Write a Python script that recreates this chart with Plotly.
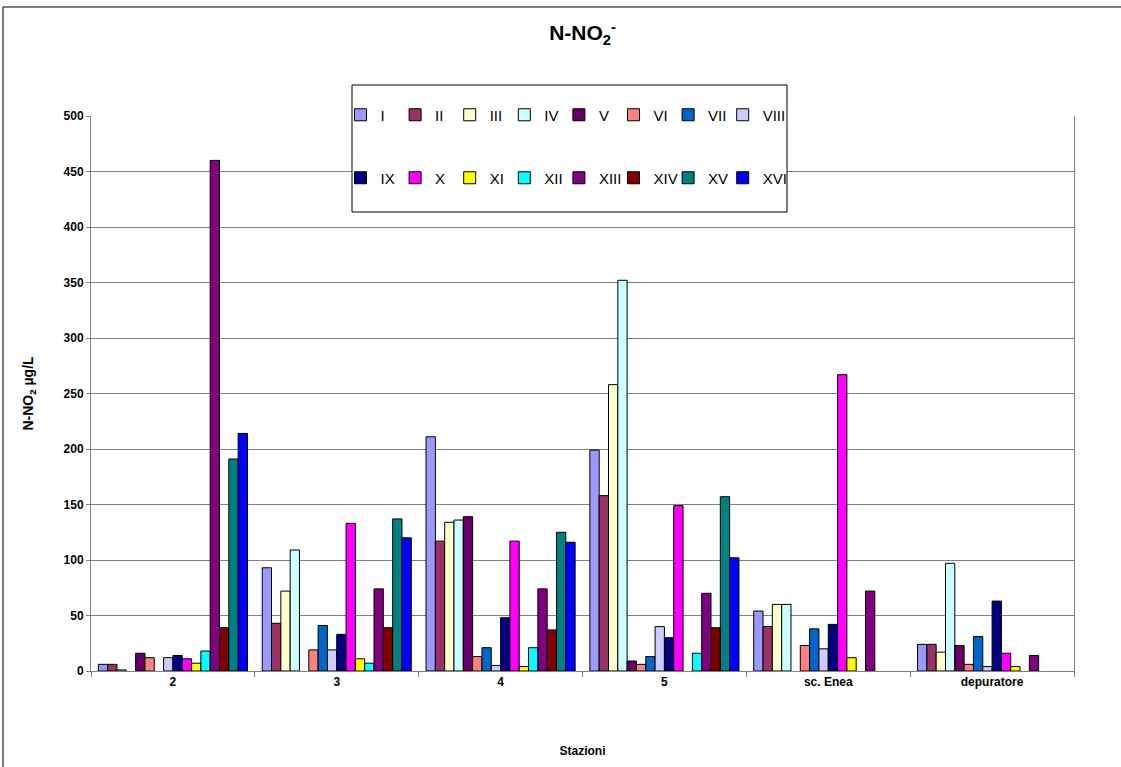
import plotly.graph_objects as go

categories = ["2", "3", "4", "5", "sc. Enea", "depuratore"]
series_names = ["I", "II", "III", "IV", "V", "VI", "VII", "VIII",
                "IX", "X", "XI", "XII", "XIII", "XIV", "XV", "XVI"]

s_I    = [6, 93, 211, 199, 54, 24]
s_II   = [6, 43, 117, 158, 40, 24]
s_III  = [1, 72, 134, 258, 60, 17]
s_IV   = [None, 109, 136, 352, 60, 97]
s_V    = [16, None, 139, 9, None, 23]
s_VI   = [12, 19, 13, 6, 23, 6]
s_VII  = [None, 41, 21, 13, 38, 31]
s_VIII = [12, 19, 5, 40, 20, 4]
s_IX   = [14, 33, 48, 30, 42, 63]
s_X    = [11, 133, 117, 149, 267, 16]
s_XI   = [7, 11, 4, None, 12, 4]
s_XII  = [18, 7, 21, 16, None, None]
s_XIII = [460, 74, 74, 70, 72, 14]
s_XIV  = [39, 39, 37, 39, None, None]
s_XV   = [191, 137, 125, 157, None, None]
s_XVI  = [214, 120, 116, 102, None, None]

values = [s_I, s_II, s_III, s_IV, s_V, s_VI, s_VII, s_VIII,
          s_IX, s_X, s_XI, s_XII, s_XIII, s_XIV, s_XV, s_XVI]

colors = ["#9999FF", "#993366", "#FFFFCC", "#CCFFFF", "#660066", "#FF8080",
          "#0066CC", "#CCCCFF", "#000080", "#FF00FF", "#FFFF00", "#00FFFF",
          "#800080", "#800000", "#008080", "#0000FF"]

y_ticks = list(range(0, 501, 50))

FONT = "Liberation Sans, Arial, sans-serif"

W, H = 1121, 767
ml, mr, mt, mb = 91, 47, 116, 96
pw = W - ml - mr
ph = H - mt - mb

def px_x(x):
    return (x - ml) / pw

def px_y(y):
    return (H - mb - y) / ph

def legend_key(i):
    return "legend" if i == 0 else f"legend{i + 1}"

fig = go.Figure()
for i, (name, vals, col) in enumerate(zip(series_names, values, colors)):
    fig.add_trace(go.Bar(
        x=categories, y=vals, name=name, showlegend=True,
        marker=dict(color=col, line=dict(color="black", width=1)),
        legend=legend_key(i),
    ))

x_start = 340.5
step = 54.6
row_y = [115, 178]

legends = {}
for i in range(len(series_names)):
    col_i, row_i = i % 8, i // 8
    legends[legend_key(i)] = dict(
        orientation="h", bgcolor="rgba(0,0,0,0)", borderwidth=0,
        font=dict(family=FONT, size=15, color="black"), itemwidth=30,
        xanchor="left", yanchor="middle",
        x=px_x(x_start + col_i * step), y=px_y(row_y[row_i]),
    )

fig.update_layout(
    width=W, height=H,
    margin=dict(l=ml, r=mr, t=mt, b=mb),
    paper_bgcolor="white", plot_bgcolor="white",
    showlegend=True,
    barmode="group", bargap=0.09, bargroupgap=0,
    title=dict(text="<b>N-NO<sub>2</sub><sup>-</sup></b>", x=0.5, xref="paper",
               y=1 - 33 / H, yref="container", xanchor="center", yanchor="middle",
               font=dict(family=FONT, size=21, color="black")),
    font=dict(family=FONT, color="black"),
    xaxis=dict(
        type="category", categoryorder="array", categoryarray=categories,
        showline=True, linecolor="#808080", linewidth=1,
        ticks="outside", tickson="boundaries", ticklen=5, tickcolor="#808080",
        tickfont=dict(family=FONT, size=12, color="black", weight="bold"),
        title=dict(text="<b>Stazioni</b>", standoff=58,
                   font=dict(family=FONT, size=12, color="black")),
        showgrid=False,
    ),
    yaxis=dict(
        range=[0, 500], tickvals=y_ticks, showgrid=True, gridcolor="#808080",
        gridwidth=1, showline=True, linecolor="#808080", linewidth=1, mirror=True,
        ticks="outside", ticklen=4, tickcolor="#808080",
        tickfont=dict(family=FONT, size=12, color="black", weight="bold"),
        title=dict(text="<b>N-NO<sub>2</sub> µg/L</b>", standoff=26,
                   font=dict(family=FONT, size=14, color="black")),
        zeroline=False,
    ),
    shapes=[
        dict(type="rect", xref="paper", yref="paper",
             x0=px_x(352), x1=px_x(787), y0=px_y(212), y1=px_y(85),
             line=dict(color="black", width=1), fillcolor="white", layer="above"),
        dict(type="line", xref="paper", yref="paper",
             x0=px_x(3), x1=px_x(1121), y0=px_y(7), y1=px_y(7),
             line=dict(color="black", width=1), layer="below"),
        dict(type="line", xref="paper", yref="paper",
             x0=px_x(3), x1=px_x(3), y0=px_y(7), y1=px_y(767),
             line=dict(color="black", width=1), layer="below"),
    ],
    **legends,
)

fig.write_html("out.html")
